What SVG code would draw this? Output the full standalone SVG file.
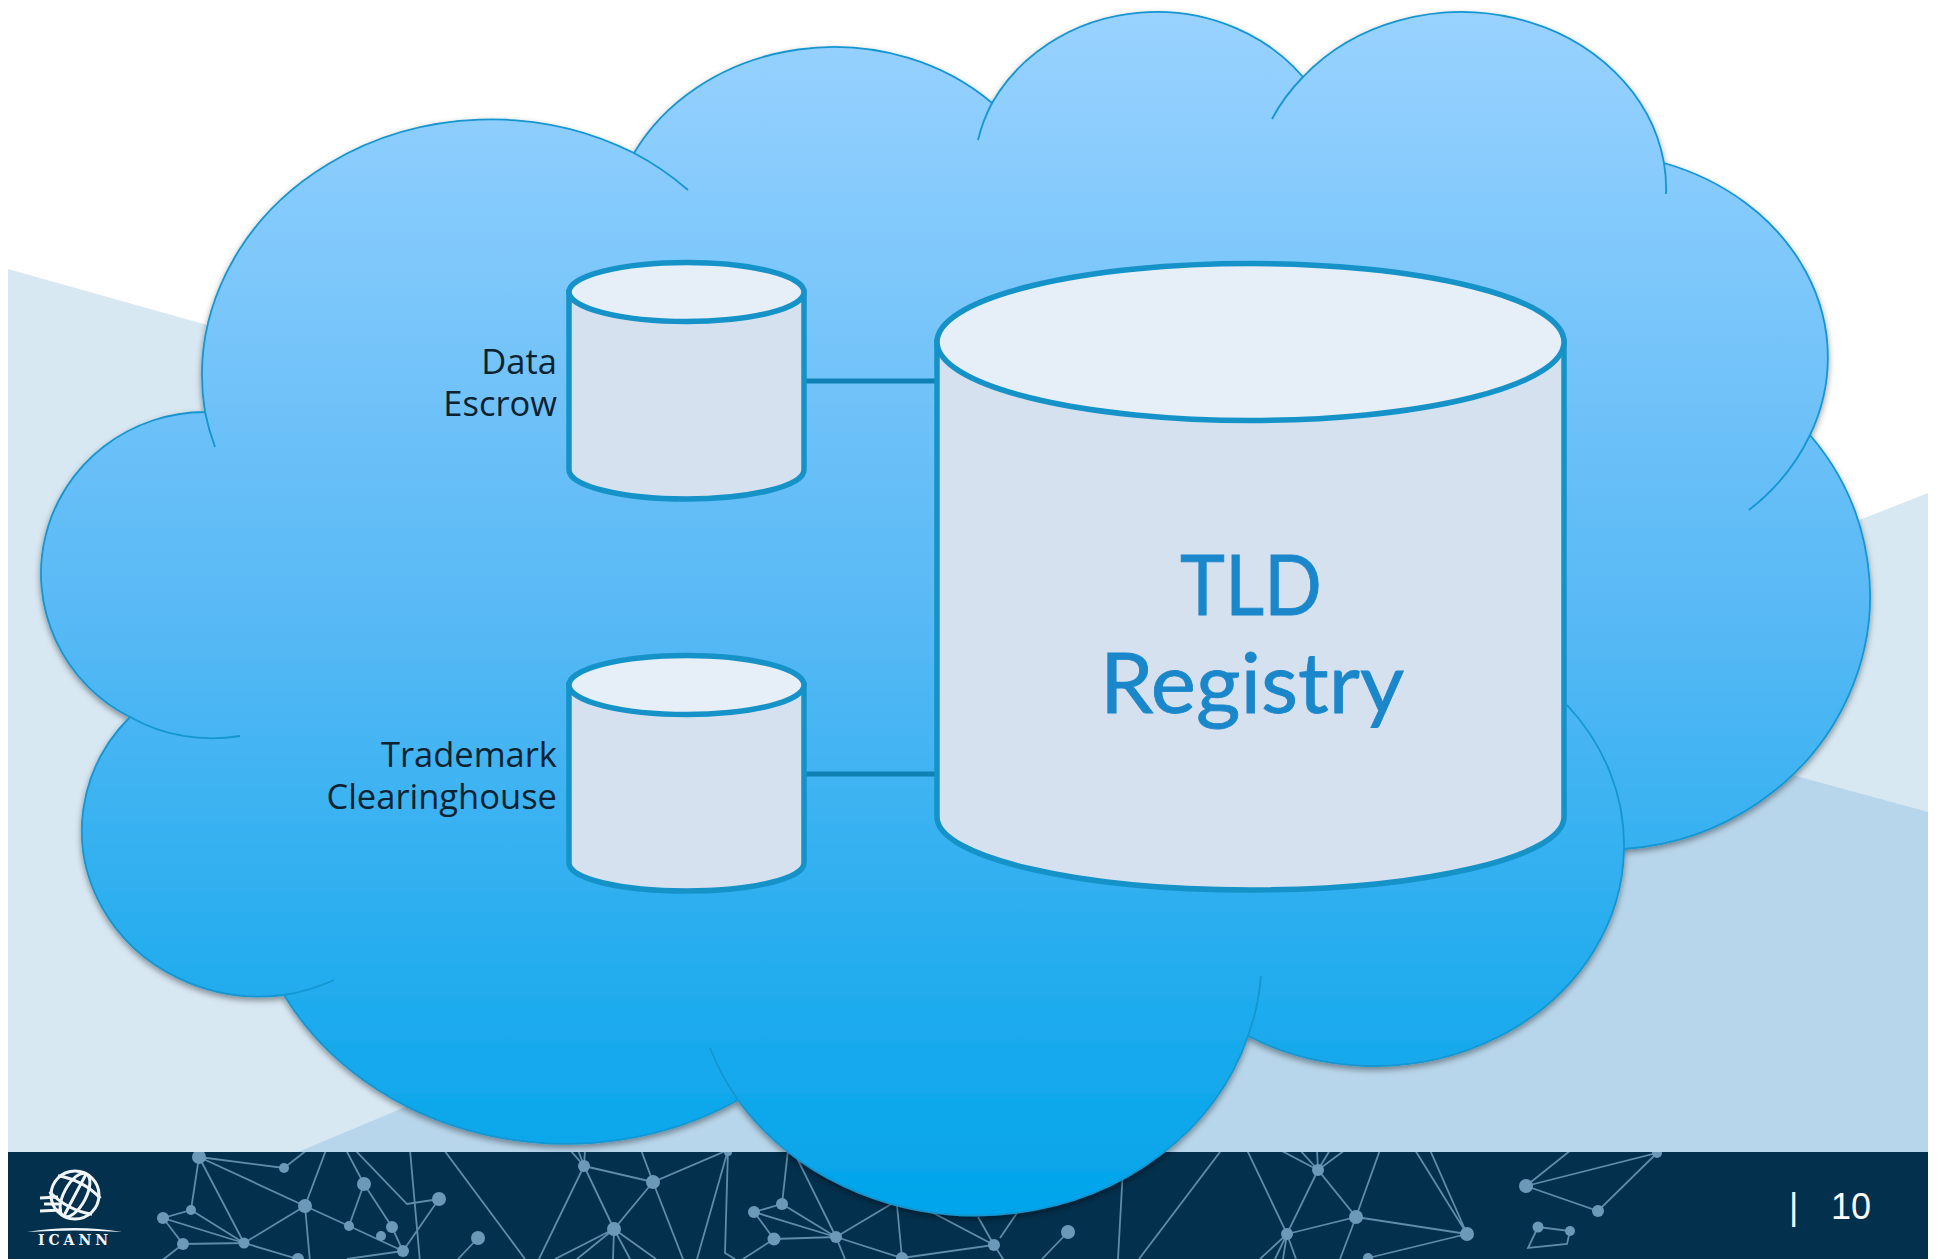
<svg xmlns="http://www.w3.org/2000/svg" width="1937" height="1259" viewBox="0 0 1937 1259">
<style>
.net{fill:none;stroke:#5f8ca9;stroke-width:1.8}
.dot{fill:#6b9ab9}
.cyl{fill:#d5e1ef;stroke:#1592c8;stroke-width:5.500}
.top{fill:#e6eef8;stroke:#1592c8;stroke-width:5.500}
.tail{fill:none;stroke:#1496d0;stroke-width:1.800}
.lbl{font-family:"Open Sans","Liberation Sans",sans-serif;font-size:34.500px;fill:#0d2230;text-anchor:end}
.big{font-family:"Lato","Liberation Sans",sans-serif;font-size:84px;fill:#1b87cb;stroke:#1b87cb;stroke-width:0.800;text-anchor:start}
.pg{font-family:"Liberation Sans",Arial,sans-serif;font-size:36px;fill:#fff}
.gl{fill:none;stroke:#f2f5f7;stroke-width:3}
</style>
<defs>
<linearGradient id="sky" gradientUnits="userSpaceOnUse" x1="0" y1="12" x2="0" y2="1215">
<stop offset="0" stop-color="#99d2ff"/><stop offset="0.5" stop-color="#58b9f5"/><stop offset="1" stop-color="#00a4ea"/>
</linearGradient>
<filter id="sh" x="-5%" y="-5%" width="110%" height="110%"><feDropShadow dx="0" dy="3" stdDeviation="3" flood-color="#000" flood-opacity="0.4"/></filter>
<clipPath id="band"><rect x="8" y="1152" width="1920" height="107"/></clipPath>
</defs>
<rect width="1937" height="1259" fill="#fff"/>
<polygon points="8,269 1460,677 1928,493 1928,1152 8,1152" fill="#d8e8f3"/>
<polygon points="298,1152 1431,676 1928,812 1928,1152" fill="#b8d6eb"/>
<g id="footer">
<rect x="8" y="1152" width="1920" height="107" fill="#03304d"/>
<g clip-path="url(#band)">
<path class="net" d="M199,1157L284,1168L307,1150M199,1157L305,1206M199,1157L191,1210L163,1218L244,1243M199,1157L244,1243M163,1218L244,1243M191,1210L244,1243M163,1218L183,1244L244,1243M183,1244L160,1262M244,1243L305,1206M244,1243L298,1259M305,1206L326,1150M305,1206L310,1262M305,1206L349,1226L403,1251M349,1226L364,1184L392,1227L403,1251M364,1184L346,1150M355,1150L407,1204L439,1199L403,1251M403,1251L347,1259M410,1150L420,1262M444,1150L525,1259M478,1238L458,1259"/>
<path class="net" d="M584,1166L653,1182L728,1150M584,1166L614,1229L653,1182M584,1166L539,1259M584,1166L570,1150M584,1166L585,1150M584,1166L578,1150M653,1182L641,1150M653,1182L683,1259M728,1150L697,1259M728,1150L725,1253L735,1259M614,1229L555,1259M614,1229L577,1259M614,1229L613,1259M614,1229L630,1259M614,1229L656,1259"/>
<path class="net" d="M754,1212L782,1204L836,1237L754,1212L774,1239L836,1237M782,1204L788,1150M774,1239L743,1259M836,1237L793,1150M836,1237L845,1259M836,1237L902,1258L994,1245L918,1205M836,1237L893,1203M902,1258L897,1205M994,1245L978,1217M994,1245L1005,1262M1000,1238L1017,1213M1068,1232L1042,1259M1118,1259L1124,1150M1139,1259L1220,1152"/>
<path class="net" d="M1247,1150L1287,1234L1318,1170L1356,1217L1287,1234M1318,1170L1280,1150M1318,1170L1300,1150M1318,1170L1317,1150M1318,1170L1330,1150M1318,1170L1345,1150M1356,1217L1380,1150M1356,1217L1340,1259M1356,1217L1467,1234L1368,1258M1467,1234L1415,1150M1467,1234L1430,1150M1287,1234L1260,1259M1287,1234L1275,1259M1287,1234L1283,1259M1287,1234L1296,1259"/>
<path class="net" d="M1526,1186L1657,1153L1598,1211L1526,1186L1571,1150M1538,1227L1570,1231L1567,1244L1528,1248L1538,1227"/>
<g class="dot">
<circle cx="199" cy="1157" r="7"/><circle cx="284" cy="1168" r="5"/><circle cx="305" cy="1206" r="7"/><circle cx="364" cy="1184" r="7"/><circle cx="439" cy="1199" r="7"/><circle cx="349" cy="1226" r="5"/><circle cx="392" cy="1227" r="6"/><circle cx="381" cy="1236" r="5"/><circle cx="403" cy="1251" r="6"/><circle cx="191" cy="1210" r="5"/><circle cx="163" cy="1218" r="6"/><circle cx="183" cy="1244" r="6"/><circle cx="244" cy="1243" r="5.500"/><circle cx="298" cy="1259" r="6"/><circle cx="478" cy="1238" r="7"/>
<circle cx="584" cy="1166" r="6"/><circle cx="653" cy="1182" r="7"/><circle cx="614" cy="1229" r="7"/><circle cx="728" cy="1152" r="4"/><circle cx="754" cy="1212" r="6"/><circle cx="782" cy="1204" r="6"/><circle cx="774" cy="1239" r="6.500"/><circle cx="836" cy="1237" r="6"/><circle cx="902" cy="1258" r="6"/><circle cx="994" cy="1245" r="6"/>
<circle cx="1068" cy="1232" r="7"/><circle cx="1318" cy="1170" r="6"/><circle cx="1356" cy="1217" r="7"/><circle cx="1287" cy="1234" r="6"/><circle cx="1467" cy="1234" r="7"/><circle cx="1368" cy="1258" r="5"/>
<circle cx="1526" cy="1186" r="7"/><circle cx="1598" cy="1211" r="6"/><circle cx="1657" cy="1153" r="5"/><circle cx="1538" cy="1227" r="5.500"/><circle cx="1570" cy="1231" r="5"/>
</g>
</g>
<g id="logo">
<circle class="gl" cx="75" cy="1195" r="24"/>
<g transform="rotate(28 75 1195)">
<ellipse class="gl" cx="75" cy="1195" rx="11" ry="24"/>
<path class="gl" d="M51,1186Q75,1178 99,1186M51,1204Q75,1212 99,1204M75,1171V1219"/>
</g>
<path class="gl" stroke-width="1.800" d="M40,1198L58,1197M44,1204L60,1204M40,1211L62,1210"/>
<path d="M27,1232Q75,1224 122,1232Q75,1229 27,1232Z" fill="#f2f5f7"/>
<text x="75" y="1245" text-anchor="middle" font-family="'DejaVu Serif','Liberation Serif',serif" font-weight="700" font-size="14" letter-spacing="4" fill="#f2f5f7">ICANN</text>
</g>
<text class="pg" x="1789" y="1219">|</text>
<text class="pg" x="1831" y="1219">10</text>
</g>
<g id="cloud">
<path filter="url(#sh)" fill="url(#sky)" stroke="#1496d0" stroke-width="1.800" d="M634,153A225,195 0 0 1 992,103A186,170 0 0 1 1303,77A205,178 0 0 1 1664,163A240,205 0 0 1 1810,435A266,254 0 0 1 1624,849A250,220 0 0 1 1248,1036A284,253 0 0 1 738,1100A320,281 0 0 1 284,995A178,166 0 0 1 130,717A164.500,161.500 0 0 1 205,412A289,256 0 0 1 634,153Z"/>
<path class="tail" d="M634,153A289,256 0 0 1 688,190M205,412A289,256 0 0 0 215,447M992,103A186,170 0 0 0 978,140M1303,77A205,178 0 0 0 1272,119M1664,163A205,178 0 0 1 1666,194M1810,435A240,205 0 0 1 1749,510M1624,849A250,220 0 0 0 1567,705M1248,1036A284,253 0 0 0 1261,976M738,1100A284,253 0 0 1 710,1048M284,995A178,166 0 0 0 334,980M130,717A164.500,161.500 0 0 0 240,736"/>
</g>
<g id="connectors" stroke="#0f80b4" stroke-width="5" fill="none">
<path d="M806,381H936"/>
<path d="M806,774H936"/>
</g>
<g id="data-escrow">
<path class="cyl" d="M569,292V470C569,486 622,499 686,499C750,499 804,486 804,470V292Z"/>
<ellipse class="top" cx="686.500" cy="292" rx="117.500" ry="29.500"/>
<text class="lbl"><tspan x="557" y="374">Data</tspan><tspan x="557" y="416">Escrow</tspan></text>
</g>
<g id="trademark-clearinghouse">
<path class="cyl" d="M569,685V863C569,879 622,891 686,891C750,891 804,879 804,863V685Z"/>
<ellipse class="top" cx="686.500" cy="685" rx="117.500" ry="29.500"/>
<text class="lbl"><tspan x="557" y="767">Trademark</tspan><tspan x="557" y="809">Clearinghouse</tspan></text>
</g>
<g id="tld-registry">
<path class="cyl" d="M937,342V817C937,857 1078,890 1250,890C1423,890 1564,857 1564,817V342Z"/>
<ellipse class="top" cx="1250.500" cy="342" rx="313.500" ry="78.500"/>
<text class="big" x="1180" y="615" textLength="142" lengthAdjust="spacingAndGlyphs">TLD</text>
<text class="big" x="1100" y="713" textLength="304" lengthAdjust="spacingAndGlyphs">Registry</text>
</g>
</svg>
